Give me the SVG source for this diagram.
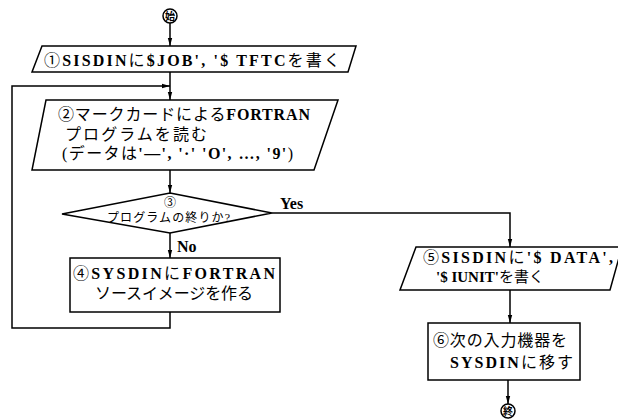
<svg xmlns="http://www.w3.org/2000/svg" width="618" height="420" viewBox="0 0 618 420">
<style>
.s{fill:#fff;stroke:#000;stroke-width:1.5}
.l{fill:none;stroke:#000;stroke-width:1.5}
text{font-family:"Liberation Serif","Noto Sans CJK JP",serif;font-size:16px;fill:#000}
.b{font-weight:bold}
.t{font-size:10px;font-weight:bold;font-family:"Noto Sans CJK JP",sans-serif}
.d{font-size:12px}
</style>
<defs>
<marker id="a" markerWidth="8" markerHeight="6" refX="8" refY="3" orient="auto" markerUnits="userSpaceOnUse">
<path d="M0,0.8 L8,3 L0,5.2 Z" fill="#000"/>
</marker>
</defs>
<g id="connectors">
<line class="l" x1="170" y1="23" x2="170" y2="46" marker-end="url(#a)"/>
<line class="l" x1="170" y1="72" x2="170" y2="100" marker-end="url(#a)"/>
<polyline class="l" points="170,312 170,328 12,328 12,86 170,86" marker-end="url(#a)"/>
<line class="l" x1="170" y1="170" x2="170" y2="193" marker-end="url(#a)"/>
<line class="l" x1="170" y1="233" x2="170" y2="258" marker-end="url(#a)"/>
<polyline class="l" points="272,213 510,213 510,247" marker-end="url(#a)"/>
<line class="l" x1="510" y1="290" x2="510" y2="323" marker-end="url(#a)"/>
<line class="l" x1="508" y1="380" x2="508" y2="404" marker-end="url(#a)"/>
<text class="b" x="280" y="209">Yes</text>
<text class="b" x="177" y="252">No</text>
</g>
<g id="start">
<circle class="s" cx="170" cy="16" r="7"/>
<text class="t" x="170" y="19.5" text-anchor="middle">始</text>
</g>
<g id="n1">
<polygon class="s" points="42,46 356,46 348,72 32,72"/>
<text x="44" y="66" textLength="296" lengthAdjust="spacing">①<tspan class="b">SISDIN</tspan>に<tspan class="b">$JOB', '$ TFTC</tspan>を書く</text>
</g>
<g id="n2">
<polygon class="s" points="46,100 338,100 314,170 32,170"/>
<text x="58" y="120" textLength="252" lengthAdjust="spacing">②マークカードによる<tspan class="b">FORTRAN</tspan></text>
<text x="65" y="140" textLength="142" lengthAdjust="spacing">プログラムを読む</text>
<text x="62" y="159" textLength="231" lengthAdjust="spacing">(データは<tspan class="b">'—', '·' 'O', …, '9'</tspan>)</text>
</g>
<g id="n3">
<polygon class="s" points="170,193 272,213 170,233 62,214"/>
<text class="d" x="170" y="207" text-anchor="middle">③</text>
<text class="d" x="107" y="222" textLength="123" lengthAdjust="spacing">プログラムの終りか?</text>
</g>
<g id="n4">
<rect class="s" x="70" y="258" width="210" height="54"/>
<text x="73" y="279" textLength="202" lengthAdjust="spacing">④<tspan class="b">SYSDIN</tspan>に<tspan class="b">FORTRAN</tspan></text>
<text x="95" y="299" textLength="158" lengthAdjust="spacing">ソースイメージを作る</text>
</g>
<g id="n5">
<polygon class="s" points="416,247 622,247 610,290 400,290"/>
<text x="423" y="263" textLength="190" lengthAdjust="spacing">⑤<tspan class="b">SISDIN</tspan>に<tspan class="b">'$ DATA',</tspan></text>
<text x="436" y="282" style="font-size:15px"><tspan class="b">'$ IUNIT'</tspan>を書く</text>
</g>
<g id="n6">
<rect class="s" x="428" y="323" width="152" height="57"/>
<text x="433" y="346" textLength="134" lengthAdjust="spacing">⑥次の入力機器を</text>
<text x="450" y="368" textLength="123" lengthAdjust="spacing"><tspan class="b">SYSDIN</tspan>に移す</text>
</g>
<g id="end">
<circle class="s" cx="508" cy="411" r="7"/>
<text class="t" x="508" y="414.5" text-anchor="middle">終</text>
</g>
</svg>
